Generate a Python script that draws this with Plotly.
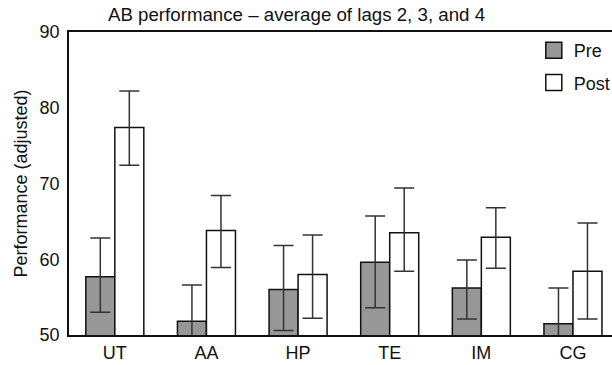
import plotly.graph_objects as go

categories = ["UT", "AA", "HP", "TE", "IM", "CG"]
pre_values = [57.7, 51.8, 56.0, 59.6, 56.2, 51.5]
pre_err_plus = [5.1, 4.8, 5.8, 6.1, 3.7, 4.7]
pre_err_minus = [4.7, 4.8, 5.4, 6.0, 4.1, 4.7]
post_values = [77.4, 63.8, 58.0, 63.5, 62.9, 58.4]
post_err_plus = [4.8, 4.6, 5.2, 5.9, 3.9, 6.4]
post_err_minus = [5.0, 4.9, 5.8, 5.1, 4.1, 6.3]
y_ticks = [50, 60, 70, 80, 90]

FONT = "Liberation Sans, Arial, sans-serif"
PRE_COLOR = "#979797"
POST_COLOR = "#ffffff"

fig = go.Figure()
fig.add_trace(go.Bar(
    x=categories, y=pre_values, name="Pre", showlegend=False,
    marker=dict(color=PRE_COLOR, line=dict(color="#111111", width=1.5)),
    error_y=dict(type="data", array=pre_err_plus, arrayminus=pre_err_minus,
                 color="#333333", thickness=1.5, width=10),
))
fig.add_trace(go.Bar(
    x=categories, y=post_values, name="Post", showlegend=False,
    marker=dict(color=POST_COLOR, line=dict(color="#111111", width=1.5)),
    error_y=dict(type="data", array=post_err_plus, arrayminus=post_err_minus,
                 color="#333333", thickness=1.5, width=10),
))
# legend entries
for nm, col, grp in [("Pre", PRE_COLOR, "a"), ("Post", POST_COLOR, "b")]:
    fig.add_trace(go.Scatter(
        x=[None], y=[None], mode="markers", name=nm, legendgroup=grp,
        marker=dict(symbol="square", size=20, color=col,
                    line=dict(color="#111111", width=1.5)),
    ))

fig.update_layout(
    width=612, height=365,
    margin=dict(l=69, r=0, t=32, b=30, autoexpand=False),
    paper_bgcolor="white", plot_bgcolor="white",
    font=dict(family=FONT, size=18, color="#111111"),
    title=dict(text="AB performance – average of lags 2, 3, and 4",
               x=296.5 / 612, xanchor="center", xref="container",
               y=1 - 14 / 365, yanchor="middle",
               font=dict(size=18.7)),
    barmode="group", bargap=0.367, bargroupgap=0,
    legend=dict(x=0.856, y=1.0, xanchor="left", yanchor="top",
                bgcolor="rgba(0,0,0,0)", font=dict(size=18),
                itemsizing="trace", tracegroupgap=6),
    xaxis=dict(range=[-0.5, 5.426], showgrid=False, showline=True,
               linecolor="#111111", linewidth=1.5, mirror=True,
               ticks="", ticklabelstandoff=1, tickfont=dict(size=18)),
    yaxis=dict(range=[50, 90], tickvals=y_ticks, showgrid=False, zeroline=False,
               showline=True, linecolor="#111111", linewidth=1.5,
               ticks="", ticklabelstandoff=4, tickfont=dict(size=18),
               title=dict(text="Performance (adjusted)", font=dict(size=18),
                          standoff=7)),
)

fig.write_html(
    "out.html",
    config={"displayModeBar": False},
    post_script="document.body.style.margin='0';document.body.style.overflow='hidden';",
)
